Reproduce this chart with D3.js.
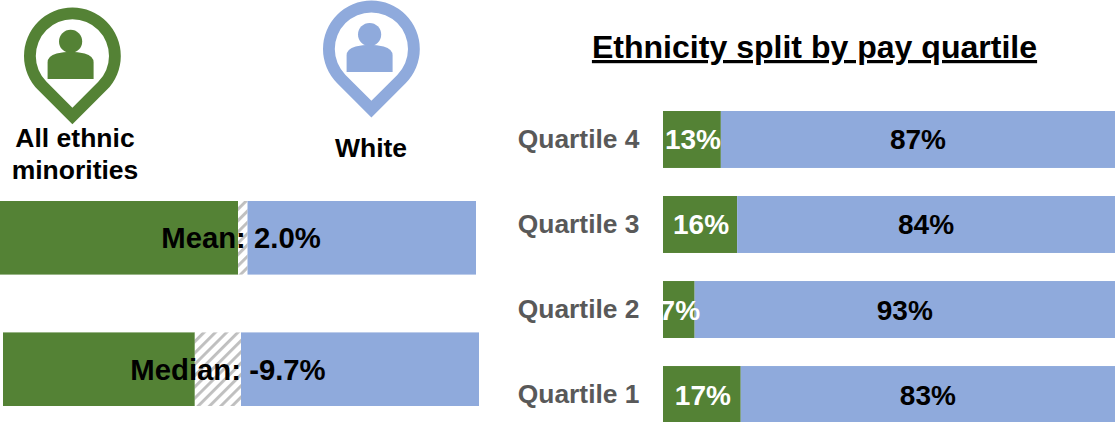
<!DOCTYPE html>
<html>
<head>
<meta charset="utf-8">
<script src="https://cdn.jsdelivr.net/npm/d3@7/dist/d3.min.js"></script>
<style>
	html, body { margin: 0; padding: 0; background: #fff; }
	svg { display: block; }
	text { font-family: "Liberation Sans", Arial, sans-serif; font-weight: bold; }
</style>
</head>
<body>
<svg id="chart" width="1115" height="422"></svg>
<script>
'use strict';
// gap bars: share of the bar for each part, in %
const gapLabels = ['Mean', 'Median'];
const gapText = ['2.0%', '-9.7%'];
const gapMinority = [50, 40.3];
const gapHatch = [2.0, 9.7];
const gapWhite = [48, 50];

// quartile bars
const quartiles = ['Quartile 4', 'Quartile 3', 'Quartile 2', 'Quartile 1'];
const minorityShare = [12.8, 16.4, 7, 17.2];
const whiteShare = [87.2, 83.6, 93, 82.8];
const minorityText = ['13%', '16%', '7%', '17%'];
const whiteText = ['87%', '84%', '93%', '83%'];

const green = '#548235', blue = '#8faadc', grey = '#595959';
const svg = d3.select('#chart');

const defs = svg.append('defs');
defs.append('pattern')
	.attr('id', 'hatch')
	.attr('patternUnits', 'userSpaceOnUse')
	.attr('width', 8).attr('height', 8)
	.attr('patternTransform', 'translate(195,332) rotate(45)')
	.call(p => {
		p.append('rect').attr('width', 8).attr('height', 8).attr('fill', '#fff');
		p.append('rect').attr('width', 2.9).attr('height', 8).attr('fill', '#bfbfbf');
	});

// pin icons
const pinPath = r => {
	const a = r / Math.SQRT2;
	return `M0,${r * Math.SQRT2}L${-a},${a}A${r},${r} 0 1 1 ${a},${a}Z`;
};
const pin = (cx, cy, colour) => {
	const g = svg.append('g').attr('transform', `translate(${cx},${cy})`);
	g.append('path')
		.attr('d', pinPath(48.4) + pinPath(36.6))
		.attr('fill-rule', 'evenodd')
		.attr('fill', colour);
	g.append('circle').attr('x', 0).attr('cx', -1.8).attr('cy', -14.5).attr('r', 11.6).attr('fill', colour);
	g.append('path')
		.attr('d', 'M-24.8,23V6.5Q-24.8,0 -15.8,-2.5Q-1.8,-6 12.2,-2.5Q21.2,0 21.2,6.5V23Z')
		.attr('fill', colour);
};
pin(72.4, 55.9, green);
pin(371.4, 49, blue);

const heading = (x, y, lines) => {
	lines.forEach((l, i) => {
		svg.append('text')
			.attr('x', x).attr('y', y + i * 32)
			.attr('text-anchor', 'middle')
			.attr('font-size', 26.5)
			.attr('fill', '#000')
			.text(l);
	});
};
heading(75, 147, ['All ethnic', 'minorities']);
heading(371, 157, ['White']);

// gap bars
const gapX = d3.scaleLinear().domain([0, 100]).range([0, 476]);
const gapY = d3.scaleBand().domain(gapLabels).range([201, 406]).paddingInner(0.44).paddingOuter(0);
const gapStart = [0, 3];
const gapRows = svg.selectAll('.gap').data(gapLabels).enter().append('g')
	.attr('class', 'gap')
	.attr('transform', (d, i) => `translate(${gapStart[i]},${gapY(d)})`);
gapRows.append('rect')
	.attr('width', (d, i) => gapX(gapMinority[i]))
	.attr('height', gapY.bandwidth())
	.attr('fill', green);
gapRows.append('rect')
	.attr('x', (d, i) => gapX(gapMinority[i]))
	.attr('width', (d, i) => gapX(gapHatch[i]))
	.attr('height', gapY.bandwidth())
	.attr('fill', 'url(#hatch)');
gapRows.append('rect')
	.attr('x', (d, i) => gapX(gapMinority[i] + gapHatch[i]))
	.attr('width', (d, i) => gapX(gapWhite[i]))
	.attr('height', gapY.bandwidth())
	.attr('fill', blue);
gapRows.append('text')
	.attr('x', (d, i) => gapX(gapMinority[i] + gapHatch[i]) + [-6.5, -13][i])
	.attr('y', gapY.bandwidth() / 2 + 10.5)
	.attr('font-size', 29.3)
	.attr('text-anchor', 'middle')
	.text((d, i) => `${d}: ${gapText[i]}`);

// quartile bars
svg.append('text')
	.attr('x', 814.5).attr('y', 58)
	.attr('text-anchor', 'middle')
	.attr('font-size', 32.05)
	.attr('text-decoration', 'underline')
	.text('Ethnicity split by pay quartile');

const x = d3.scaleLinear().domain([0, 100]).range([663, 1115]);
const y = d3.scaleBand().domain(quartiles).range([111, 423]).paddingInner(0.33).paddingOuter(0);
const rows = svg.selectAll('.quartile').data(quartiles).enter().append('g').attr('class', 'quartile');
rows.append('rect')
	.attr('x', x(0))
	.attr('y', d => y(d))
	.attr('width', (d, i) => x(minorityShare[i]) - x(0))
	.attr('height', y.bandwidth())
	.attr('fill', green);
rows.append('rect')
	.attr('x', (d, i) => x(minorityShare[i]))
	.attr('y', d => y(d))
	.attr('width', (d, i) => x(minorityShare[i] + whiteShare[i]) - x(minorityShare[i]))
	.attr('height', y.bandwidth())
	.attr('fill', blue);
rows.append('text')
	.attr('x', (d, i) => x(minorityShare[i] / 2) + 1)
	.attr('y', d => y(d) + y.bandwidth() / 2 + 10)
	.attr('text-anchor', 'middle')
	.attr('font-size', 28)
	.attr('fill', '#fff')
	.text((d, i) => minorityText[i]);
rows.append('text')
	.attr('x', (d, i) => x(minorityShare[i] + whiteShare[i] / 2))
	.attr('y', d => y(d) + y.bandwidth() / 2 + 10)
	.attr('text-anchor', 'middle')
	.attr('font-size', 28)
	.attr('fill', '#000')
	.text((d, i) => whiteText[i]);
rows.append('text')
	.attr('x', 639.5)
	.attr('y', d => y(d) + y.bandwidth() / 2 + 8.5)
	.attr('text-anchor', 'end')
	.attr('font-size', 26.4)
	.attr('fill', grey)
	.text(d => d);
</script>
</body>
</html>
